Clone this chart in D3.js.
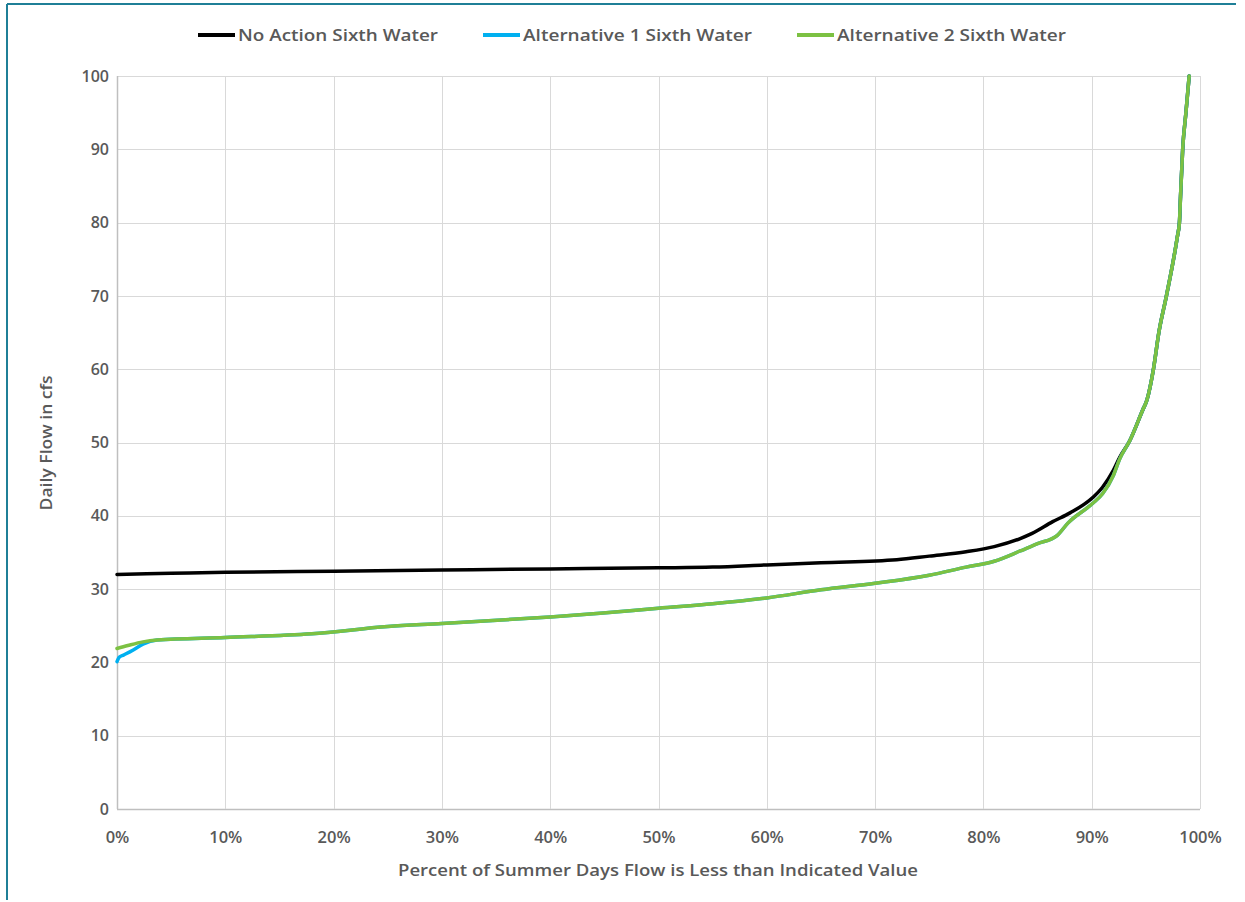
<!DOCTYPE html>
<html>
<head>
<meta charset="utf-8">
<script src="https://cdn.jsdelivr.net/npm/d3@7"></script>
<style>
  html, body { margin: 0; padding: 0; background: #ffffff; }
  svg { display: block; }
  text { font-family: "Open Sans", "Noto Sans", sans-serif; font-weight: 600; fill: #595959; }
</style>
</head>
<body>
<svg id="chart" width="1245" height="902"></svg>
<script>
// ---- data ----
const seriesNames = ["No Action Sixth Water", "Alternative 1 Sixth Water", "Alternative 2 Sixth Water"];
const seriesColors = ["#000000", "#00b0f0", "#7cc142"];
const yTicks = [0, 10, 20, 30, 40, 50, 60, 70, 80, 90, 100];
const xTicks = [0, 10, 20, 30, 40, 50, 60, 70, 80, 90, 100];

// [percent exceedance, cfs]
const noAction = [
  [0,32.0],[5,32.15],[10,32.3],[20,32.45],[30,32.6],[40,32.75],[50,32.9],[55,33.0],
  [60,33.3],[65,33.6],[72,34.0],[75,34.5],[78.4,35.1],[81,35.8],[83.4,36.9],[84.5,37.6],
  [86.4,39.2],[88,40.4],[90.1,42.5],[91,43.9],[92,46.2],[92.6,48.0],[93.5,50.2],
  [94.7,54.4],[95.1,55.8],[95.7,60],[96.2,65],[96.9,70],[97.9,78],[98.1,80],
  [98.2,83.5],[98.4,90],[98.7,95],[99,100]
];
const alt1 = [
  [0,20.1],[0.2,20.7],[0.6,21.0],[1.5,21.7],[2.4,22.5],[3.7,23.05],[10,23.4],[18,23.9],
  [25,24.9],[30,25.3],[40,26.2],[44.6,26.7],[50,27.4],[55,28.0],[60,28.8],[65,29.9],
  [70,30.8],[75,31.9],[78.4,33.0],[81,33.8],[83.4,35.2],[85,36.2],[86.8,37.3],[87.8,39.0],
  [90.1,41.7],[91,43.0],[92,45.5],[92.6,47.8],[93.5,50.2],[94.7,54.4],[95.1,55.8],
  [95.7,60],[96.2,65],[96.9,70],[97.9,78],[98.1,80],[98.2,83.5],[98.4,90],[98.7,95],[99,100]
];
const alt2 = [
  [0,21.9],[1,22.3],[2.4,22.8],[3.7,23.05],[10,23.4],[18,23.9],
  [25,24.9],[30,25.3],[40,26.2],[44.6,26.7],[50,27.4],[55,28.0],[60,28.8],[65,29.9],
  [70,30.8],[75,31.9],[78.4,33.0],[81,33.8],[83.4,35.2],[85,36.2],[86.8,37.3],[87.8,39.0],
  [90.1,41.7],[91,43.0],[92,45.5],[92.6,47.8],[93.5,50.2],[94.7,54.4],[95.1,55.8],
  [95.7,60],[96.2,65],[96.9,70],[97.9,78],[98.1,80],[98.2,83.5],[98.4,90],[98.7,95],[99,100]
];

// ---- layout ----
const svg = d3.select("#chart");
const plot = { left: 117, right: 1200, top: 76, bottom: 809 };

const x = d3.scaleLinear().domain([0, 100]).range([plot.left, plot.right]);
const y = d3.scaleLinear().domain([0, 100]).range([plot.bottom, plot.top]);

// outer frame (teal, top & left visible)
svg.append("line").attr("x1", 7).attr("x2", 1236).attr("y1", 4).attr("y2", 4)
  .attr("stroke", "#1f7f97").attr("stroke-width", 2);
svg.append("line").attr("x1", 7).attr("x2", 7).attr("y1", 4).attr("y2", 900)
  .attr("stroke", "#1f7f97").attr("stroke-width", 2);

// gridlines
const grid = svg.append("g");
grid.selectAll(".hg").data(yTicks).join("line")
  .attr("x1", plot.left).attr("x2", plot.right)
  .attr("y1", d => Math.round(y(d)) + 0.5).attr("y2", d => Math.round(y(d)) + 0.5)
  .attr("stroke", d => d === 0 ? "#bfbfbf" : "#d9d9d9").attr("stroke-width", d => d === 0 ? 1.5 : 1);
grid.selectAll(".vg").data(xTicks).join("line")
  .attr("x1", d => Math.round(x(d)) + 0.5).attr("x2", d => Math.round(x(d)) + 0.5)
  .attr("y1", plot.top).attr("y2", plot.bottom)
  .attr("stroke", d => d === 0 ? "#bfbfbf" : "#d9d9d9").attr("stroke-width", d => d === 0 ? 1.5 : 1);

// axes (labels only)
const yAxis = d3.axisLeft(y).tickValues(yTicks).tickSize(0).tickPadding(8).tickFormat(d3.format("d"));
const gy = svg.append("g").attr("transform", `translate(${plot.left},0)`).call(yAxis);
gy.select(".domain").remove();
gy.selectAll("text").style("font-size", "16px").attr("fill", "#595959")
  .style("font-family", "'Open Sans', sans-serif").style("font-weight", "600");

const xAxis = d3.axisBottom(x).tickValues(xTicks).tickSize(0).tickPadding(22).tickFormat(d => d + "%");
const gx = svg.append("g").attr("transform", `translate(0,${plot.bottom})`).call(xAxis);
gx.select(".domain").remove();
gx.selectAll("text").style("font-size", "16.5px").attr("fill", "#595959")
  .style("font-family", "'Open Sans', sans-serif").style("font-weight", "600");

// axis titles
svg.append("text").attr("x", 658).attr("y", 876).attr("text-anchor", "middle")
  .style("font-size", "16px").text("Percent of Summer Days Flow is Less than Indicated Value")
  .attr("textLength", 520).attr("lengthAdjust", "spacingAndGlyphs");
svg.append("text").attr("transform", `translate(52,443) rotate(-90)`).attr("text-anchor", "middle")
  .style("font-size", "16px").text("Daily Flow in cfs")
  .attr("textLength", 135).attr("lengthAdjust", "spacingAndGlyphs");

// lines
const line = d3.line().x(d => x(d[0])).y(d => y(d[1])).curve(d3.curveMonotoneX);
const allSeries = [noAction, alt1, alt2];
svg.append("g").selectAll("path").data(allSeries).join("path")
  .attr("d", d => line(d))
  .attr("fill", "none")
  .attr("stroke", (d, i) => seriesColors[i])
  .attr("stroke-width", 3.5)
  .attr("stroke-linejoin", "round")
  .attr("stroke-linecap", "round");

// legend
const legendItems = [
  { name: seriesNames[0], color: seriesColors[0], x0: 198, tx: 238, w: 200 },
  { name: seriesNames[1], color: seriesColors[1], x0: 483, tx: 523, w: 229 },
  { name: seriesNames[2], color: seriesColors[2], x0: 797, tx: 837, w: 229 }
];
const lg = svg.append("g");
legendItems.forEach(it => {
  lg.append("line").attr("x1", it.x0).attr("x2", it.x0 + 37).attr("y1", 35).attr("y2", 35)
    .attr("stroke", it.color).attr("stroke-width", 4);
  lg.append("text").attr("x", it.tx).attr("y", 41).style("font-size", "16px")
    .text(it.name).attr("textLength", it.w).attr("lengthAdjust", "spacingAndGlyphs");
});
</script>
</body>
</html>
